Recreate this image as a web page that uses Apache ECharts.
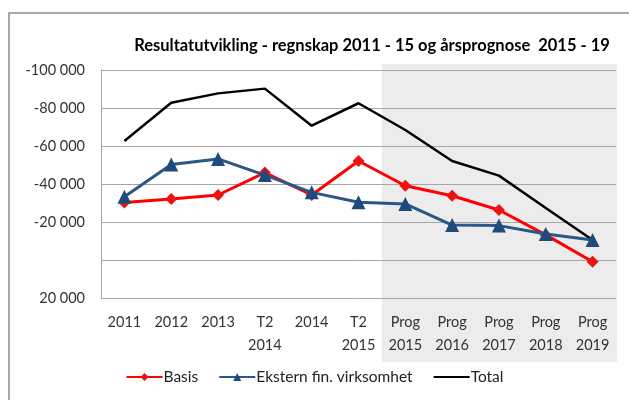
<!DOCTYPE html>
<html>
<head>
<meta charset="utf-8">
<script src="https://cdn.jsdelivr.net/npm/echarts@6/dist/echarts.min.js"></script>
<style>
  html, body { margin: 0; padding: 0; background: #fff; }
  #chart { width: 629px; height: 400px; }
</style>
</head>
<body>
<div id="chart"></div>
<script>
const categories = ['2011', '2012', '2013', 'T2\n2014', '2014', 'T2\n2015',
  'Prog\n2015', 'Prog\n2016', 'Prog\n2017', 'Prog\n2018', 'Prog\n2019'];
const basis = [-30200, -32100, -34200, -46000, -34200, -52100, -39100, -33800, -26300, -13200, 900];
const ekstern = [-33300, -50300, -53200, -44700, -35600, -30400, -29500, -18400, -18100, -13700, -10500];
const total = [-62600, -82800, -87700, -90200, -70700, -82500, -68400, -52100, -44400, -27400, -10500];
const yTicks = { min: -100000, max: 20000, step: 20000 };
const prognoseFrom = 'Prog\n2015';

const font = 'Lato, "Open Sans", sans-serif';
const chart = echarts.init(document.getElementById('chart'));

function fmt(v) {
  if (v === 0) return '';
  const s = String(Math.abs(v)).replace(/\B(?=(\d{3})+(?!\d))/g, ' ');
  return (v < 0 ? '-' : '') + s;
}

const option = {
  backgroundColor: '#fff',
  animation: false,
  textStyle: { fontFamily: font },
  title: {
    text: 'Resultatutvikling - regnskap 2011 - 15 og årsprognose  2015 - 19',
    left: 367,
    textAlign: 'center',
    top: 32,
    textStyle: { fontSize: 16.5, fontWeight: 'bold', color: '#000', fontFamily: font }
  },
  legend: {
    bottom: 10,
    left: 'center',
    itemWidth: 36,
    itemHeight: 10,
    itemGap: 20,
    textStyle: { fontSize: 15.5, color: '#222', padding: [0, 0, 0, -4] },
    data: ['Basis', 'Ekstern fin. virksomhet', { name: 'Total', itemStyle: { opacity: 0 } }]
  },
  grid: { left: 101, right: 13, top: 70, bottom: 102 },
  xAxis: {
    type: 'category',
    data: categories,
    axisLine: { show: false, onZero: false },
    axisTick: { show: false },
    axisLabel: { fontSize: 14.5, color: '#333', margin: 13, lineHeight: 23, interval: 0 }
  },
  yAxis: {
    type: 'value',
    inverse: true,
    min: yTicks.min,
    max: yTicks.max,
    interval: yTicks.step,
    axisLine: { show: true, lineStyle: { color: '#a6a6a6', width: 1 } },
    axisTick: { show: false },
    splitLine: { lineStyle: { color: '#a6a6a6', width: 1 } },
    axisLabel: { fontSize: 14.5, color: '#333', margin: 16, formatter: fmt }
  },
  series: [
    {
      name: 'Basis', type: 'line', data: basis,
      symbol: 'diamond', symbolSize: 12,
      lineStyle: { color: '#ff0000', width: 3 },
      itemStyle: { color: '#ee1111' },
      z: 3
    },
    {
      name: 'Ekstern fin. virksomhet', type: 'line', data: ekstern,
      symbol: 'triangle', symbolSize: 14,
      lineStyle: { color: '#2b5686', width: 3 },
      itemStyle: { color: '#1f4a7c' },
      z: 4
    },
    {
      name: 'Total', type: 'line', data: total,
      symbol: 'none',
      lineStyle: { color: '#000', width: 2.5 },
      itemStyle: { color: '#000' },
      z: 2
    }
  ]
};

chart.setOption(option);

// grå bakgrunn for prognoseperioden + ytre ramme
const i0 = categories.indexOf(prognoseFrom);
const xa = chart.convertToPixel({ xAxisIndex: 0 }, categories[i0 - 1]);
const xb = chart.convertToPixel({ xAxisIndex: 0 }, categories[i0]);
const xEnd = chart.convertToPixel({ xAxisIndex: 0 }, categories[categories.length - 1]) + (xb - xa) / 2;
const yTop = chart.convertToPixel({ yAxisIndex: 0 }, yTicks.min);
const yBot = chart.convertToPixel({ yAxisIndex: 0 }, yTicks.max);
const bandLeft = (xa + xb) / 2;

chart.setOption({
  graphic: [
    {
      type: 'rect', z: -10, silent: true,
      shape: { x: bandLeft, y: yTop - 6, width: xEnd - bandLeft + 1, height: yBot - yTop + 70 },
      style: { fill: '#ececec' }
    },
    {
      type: 'polyline', z: 10, silent: true,
      shape: { points: [[9, 400], [9, 13], [629, 13]] },
      style: { stroke: '#8c8c8c', lineWidth: 1.5, fill: null }
    }
  ]
});
</script>
</body>
</html>
